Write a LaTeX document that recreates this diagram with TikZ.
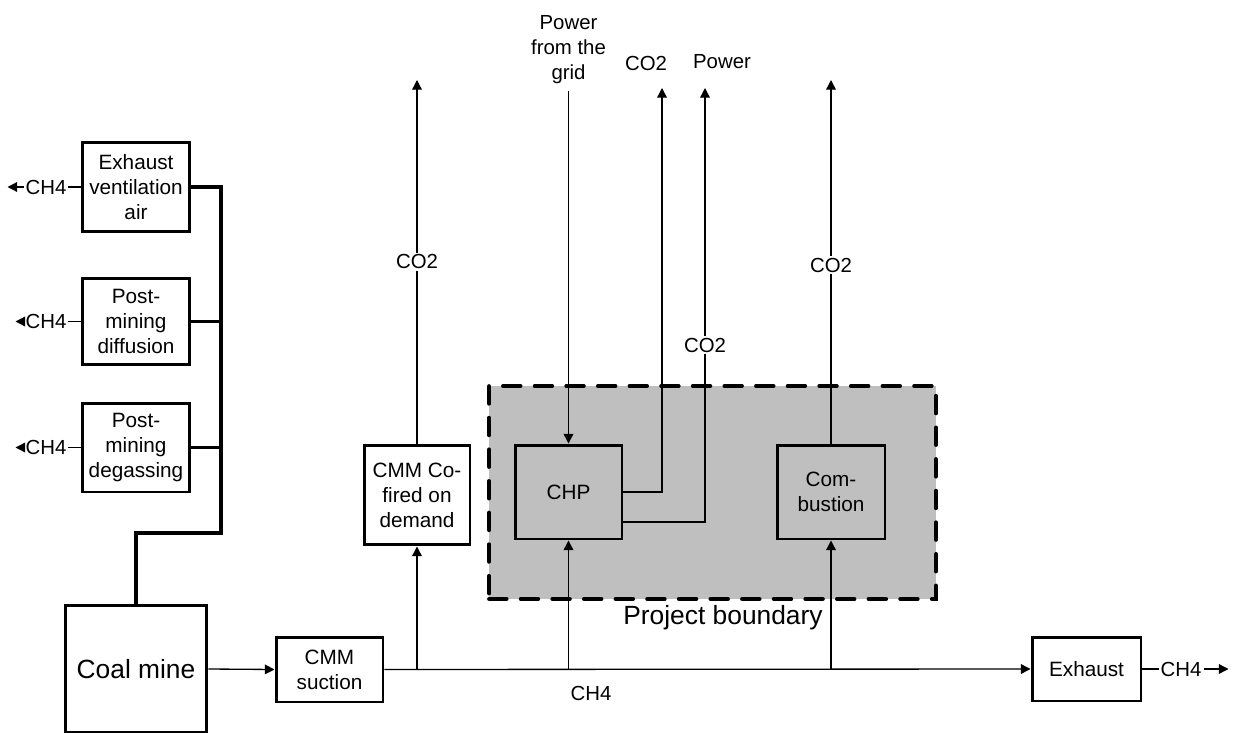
\documentclass[tikz,border=0pt]{standalone}
\usepackage{fontspec}
\setmainfont{Liberation Sans}
\usetikzlibrary{arrows.meta}

\begin{document}
\begin{tikzpicture}[
  x=0.02cm, y=-0.02cm,
  unit/.style={
    rectangle, draw=black, fill=white, line width=1.7pt,
    align=center, inner sep=2pt, font=\fontsize{11.8}{14.2}\selectfont
  },
  flow/.style={-{Triangle[length=5.5pt, width=5.5pt]}, line width=0.75pt},
  pipe/.style={line width=0.75pt},
  bus/.style={line width=1.8pt},
  lbl/.style={font=\fontsize{11.6}{14.2}\selectfont, inner sep=1pt, align=center},
  boundary/.style={
    rectangle, draw=black, fill=black!25, line width=2.2pt,
    dash pattern=on 10pt off 8pt, line cap=round
  }
]
\useasboundingbox (0,0) rectangle (1234,733);

% ============================================================
% Project boundary (grey dashed area) with CHP and combustion.
\node[boundary, minimum width=8.94cm, minimum height=4.26cm] (pb) at (712.5,492.5) {};
\node[lbl, font=\fontsize{15}{17}\selectfont] (pblbl) at (723,618) {Project boundary};

\node[unit, fill=none, minimum width=2.14cm, minimum height=1.88cm] (chp) at (568.5,492) {CHP};
\node[unit, fill=none, minimum width=2.16cm, minimum height=1.88cm] (comb) at (831,492) {Com-\\bustion};

% ============================================================
% Left column: methane sources feeding the thick bus.
\node[unit, minimum width=2.16cm, minimum height=1.80cm] (eva) at (136,187) {Exhaust\\ventilation\\air};
\node[unit, minimum width=2.16cm, minimum height=1.74cm] (pmd) at (136,321.5) {Post-\\mining\\diffusion};
\node[unit, minimum width=2.16cm, minimum height=1.78cm] (pmg) at (136,447.5) {Post-\\mining\\degassing};
\node[unit, minimum width=2.84cm, minimum height=2.56cm,
  font=\fontsize{15}{18}\selectfont] (mine) at (136,669) {Coal mine};

% CH4 releases on the left
\foreach \src/\len in {eva/16, pmd/8, pmg/8} {
  \node[lbl] (ch4\src) at (46,0 |- \src) {CH4};
  \draw[pipe] (\src.west) -- (ch4\src.east);
  \draw[flow] (ch4\src.west) -- ++(-\len,0);
}

% Thick bus down to the coal mine
\coordinate (bt) at (221,187);
\coordinate (bj) at (221,533);
\draw[bus] (eva.east) -- (bt) -- (bj) -| (mine.north);
\draw[bus] (pmd.east) -- (pmd.east -| bt);
\draw[bus] (pmg.east) -- (pmg.east -| bt);

% ============================================================
% Bottom row: suction, main CH4 line and exhaust.
\node[unit, minimum width=2.14cm, minimum height=1.30cm] (suction) at (329.5,669.5) {CMM\\suction};
\node[unit, minimum width=2.12cm, minimum height=2.00cm] (cofired) at (417,495) {CMM Co-\\fired on\\demand};
\node[unit, minimum width=2.18cm, minimum height=1.28cm] (exhaust) at (1086.5,669) {Exhaust};
\node[lbl] (ch4out) at (1181,669) {CH4};
\node[lbl] (ch4main) at (591,693) {CH4};

\draw[flow] (mine.east) -- (suction.west);
\draw[flow] (suction.east) -- (exhaust.west);
\draw[pipe] (exhaust.east) -- (ch4out.west);
\draw[flow] (ch4out.east) -- ++(25,0);

% Branches off the main line
\coordinate (b1) at (417,669);
\coordinate (b2) at (568.5,669);
\coordinate (b3) at (831,669);
\draw[flow] (b1) -- (cofired.south);
\draw[flow] (b2) -- (chp.south);
\draw[flow] (b3) -- (comb.south);

% ============================================================
% Top: inputs and outputs across the boundary.
\node[lbl, inner sep=4pt] (grid) at (568.5,50) {Power\\from the\\grid};
\node[lbl] (co2chp) at (646,63) {CO2};
\node[lbl] (power) at (722,62) {Power};

\coordinate (t1) at (417,80);
\coordinate (t2) at (662,88);
\coordinate (t3) at (705,88);
\coordinate (t4) at (831,80);

\draw[flow] (grid) -- (chp);
\draw[flow] (chp.east) -| (t2);
\draw[flow] ([yshift=-0.6cm]chp.east) -| (t3);
\node[lbl, fill=white] (co2pw) at (705,345) {CO2};

\draw[flow] (cofired.north) -- node[lbl, fill=white] (co2cf) {CO2} (t1);
\draw[flow] (comb.north) -- node[lbl, fill=white, pos=0.49] (co2cb) {CO2} (t4);

\end{tikzpicture}
\end{document}
